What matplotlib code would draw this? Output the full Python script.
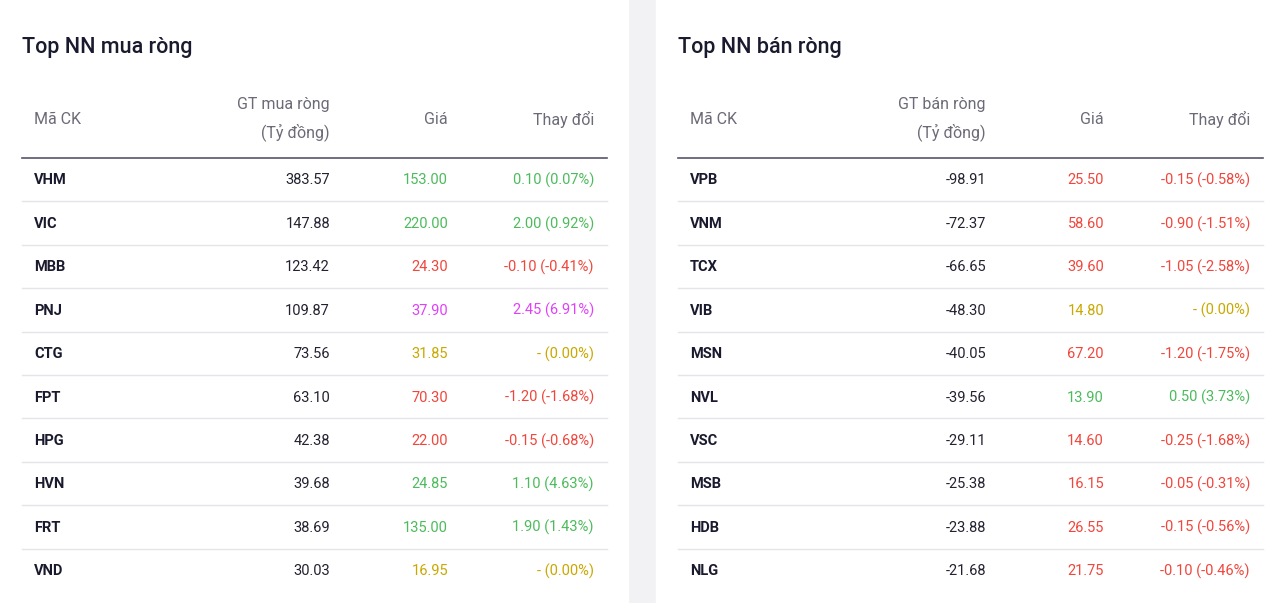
import matplotlib
matplotlib.use("Agg")
import matplotlib.pyplot as plt
from matplotlib.patches import Rectangle

plt.rcParams['font.family'] = ['Roboto', 'DejaVu Sans']

# left table: top foreign net buy
buy_codes = ["VHM", "VIC", "MBB", "PNJ", "CTG", "FPT", "HPG", "HVN", "FRT", "VND"]
buy_values = ["383.57", "147.88", "123.42", "109.87", "73.56", "63.10", "42.38", "39.68", "38.69", "30.03"]
buy_prices = ["153.00", "220.00", "24.30", "37.90", "31.85", "70.30", "22.00", "24.85", "135.00", "16.95"]
buy_changes = ["0.10 (0.07%)", "2.00 (0.92%)", "-0.10 (-0.41%)", "2.45 (6.91%)", "- (0.00%)",
               "-1.20 (-1.68%)", "-0.15 (-0.68%)", "1.10 (4.63%)", "1.90 (1.43%)", "- (0.00%)"]
buy_status = ["up", "up", "down", "ceil", "ref", "down", "down", "up", "up", "ref"]

# right table: top foreign net sell
sell_codes = ["VPB", "VNM", "TCX", "VIB", "MSN", "NVL", "VSC", "MSB", "HDB", "NLG"]
sell_values = ["-98.91", "-72.37", "-66.65", "-48.30", "-40.05", "-39.56", "-29.11", "-25.38", "-23.88", "-21.68"]
sell_prices = ["25.50", "58.60", "39.60", "14.80", "67.20", "13.90", "14.60", "16.15", "26.55", "21.75"]
sell_changes = ["-0.15 (-0.58%)", "-0.90 (-1.51%)", "-1.05 (-2.58%)", "- (0.00%)", "-1.20 (-1.75%)",
                "0.50 (3.73%)", "-0.25 (-1.68%)", "-0.05 (-0.31%)", "-0.15 (-0.56%)", "-0.10 (-0.46%)"]
sell_status = ["down", "down", "down", "ref", "down", "up", "down", "down", "down", "down"]

COLORS = {"up": "#4cbb5c", "down": "#f0463c", "ceil": "#e040fb", "ref": "#c9a800"}
GRAY = "#6b6b78"
DARK = "#1a1a2e"

fig = plt.figure(figsize=(12.8, 6.03), dpi=100)
fig.patch.set_facecolor("#f2f2f4")
ax = fig.add_axes([0, 0, 1, 1])
ax.set_xlim(0, 1280)
ax.set_ylim(603, 0)
ax.axis("off")


def draw_table(x0, title, header, codes, values, prices, changes, status):
    ax.add_patch(Rectangle((x0 - 22, 0), 628, 603, color="white", zorder=0))
    ax.text(x0, 48, title, fontsize=15.5, fontweight="medium", color=DARK, va="center")
    ax.text(x0 + 12, 119, "Mã CK", fontsize=11.5, color=GRAY, va="center")
    ax.text(x0 + 308, 105, header, fontsize=11.5, color=GRAY, va="center", ha="right")
    ax.text(x0 + 308, 132, "(Tỷ đồng)", fontsize=11.5, color=GRAY, va="center", ha="right")
    ax.text(x0 + 426, 119, "Giá", fontsize=11.5, color=GRAY, va="center", ha="right")
    ax.text(x0 + 572, 119, "Thay đổi", fontsize=11.5, color=GRAY, va="center", ha="right")
    ax.plot([x0, x0 + 585], [158, 158], color="#55556a", lw=1.2)
    step = 43.4
    for i in range(len(codes)):
        y = 180.5 + i * step
        c = COLORS[status[i]]
        ax.text(x0 + 12, y, codes[i], fontsize=10.5, fontweight="bold", color=DARK, va="center")
        ax.text(x0 + 308, y, values[i], fontsize=10.5, color="#222230", va="center", ha="right")
        ax.text(x0 + 426, y, prices[i], fontsize=10.5, color=c, va="center", ha="right")
        ax.text(x0 + 572, y, changes[i], fontsize=10.5, color=c, va="center", ha="right")
        if i < len(codes) - 1:
            ly = 158 + (i + 1) * step
            ax.plot([x0, x0 + 585], [ly, ly], color="#e4e4ea", lw=1)


draw_table(22, "Top NN mua ròng", "GT mua ròng", buy_codes, buy_values, buy_prices, buy_changes, buy_status)
draw_table(678, "Top NN bán ròng", "GT bán ròng", sell_codes, sell_values, sell_prices, sell_changes, sell_status)

fig.savefig("out.png", dpi=100, facecolor=fig.get_facecolor())
